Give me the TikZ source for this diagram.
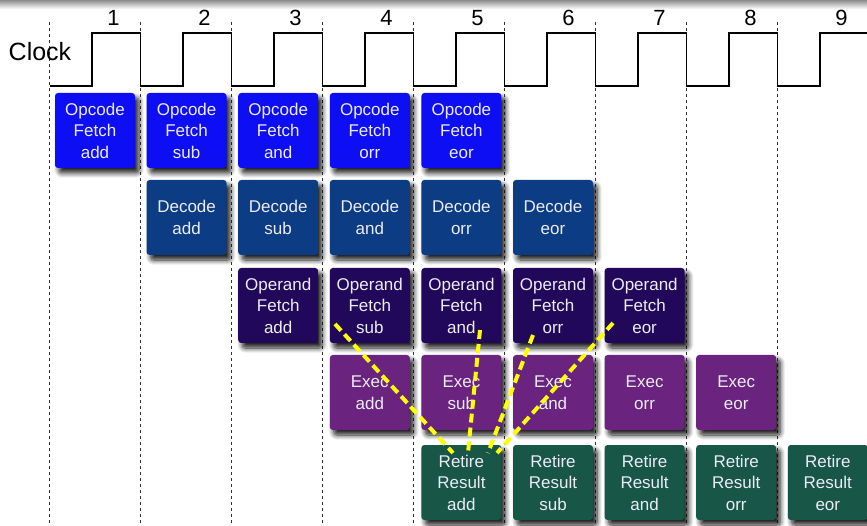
\documentclass[tikz,border=0pt]{standalone}
\usepackage{fontspec}
\setmainfont{Liberation Sans}
\usetikzlibrary{shadows.blur,calc}
\definecolor{cOF}{RGB}{14,14,245}
\definecolor{cDC}{RGB}{12,60,132}
\definecolor{cOP}{RGB}{34,8,90}
\definecolor{cEX}{RGB}{106,36,128}
\definecolor{cRR}{RGB}{24,86,72}
\definecolor{ctxt}{RGB}{236,236,242}
\definecolor{cyel}{RGB}{255,255,0}
\begin{document}
\begin{tikzpicture}[x=1pt,y=-1pt,
  stage/.style={minimum width=80pt, minimum height=75pt, inner sep=0pt,
    rounded corners=3pt, text width=80pt, align=center,
    font=\fontsize{17}{21.5}\selectfont, text=ctxt,
    blur shadow={shadow xshift=4pt, shadow yshift=-5pt, shadow opacity=90, shadow blur radius=5pt, shadow blur steps=8}},
  gridline/.style={black!80, line width=0.8pt, dash pattern=on 3pt off 3pt},
  clk/.style={black, line width=1.8pt, line join=miter},
  num/.style={font=\fontsize{22}{22}\selectfont, inner sep=0pt},
  hazard/.style={cyel, line width=4pt, dash pattern=on 9pt off 5pt}
]
\useasboundingbox (0,0) rectangle (867,526);
\shade[top color=black!45, bottom color=white] (0,0) rectangle (867,9);

% grid lines
\foreach \k in {0,...,8} {
  \draw[gridline] ({49.5+91*\k},22) -- ({49.5+91*\k},526);
}

% clock
\draw[clk] (49.5,86) -- (92,86) |- (140.5,33) |- (183,86) |- (231.5,33) |- (274,86)
  |- (322.5,33) |- (365,86) |- (413.5,33) |- (456,86) |- (504.5,33) |- (547,86)
  |- (595.5,33) |- (638,86) |- (686.5,33) |- (729,86) |- (777.5,33) |- (820,86) |- (867,33);
\node[font=\fontsize{25}{25}\selectfont, inner sep=0pt] (clock) at (40,52) {Clock};
\foreach \k in {1,...,9} {
  \node[num] (n\k) at ({113.5+91*(\k-1)},18) {\k};
}

% stages
\foreach \w [count=\k from 1] in {add,sub,and,orr,eor} {
  \node[stage, fill=cOF] (of-\w) at ({95+91.6*(\k-1)},130.5) {Opcode\\Fetch\\\w};
}
\foreach \w [count=\k from 2] in {add,sub,and,orr,eor} {
  \node[stage, fill=cDC] (dc-\w) at ({95+91.6*(\k-1)},217.5) {Decode\\\w};
}
\foreach \w [count=\k from 3] in {add,sub,and,orr,eor} {
  \node[stage, fill=cOP] (op-\w) at ({95+91.6*(\k-1)},305.5) {Operand\\Fetch\\\w};
}
\foreach \w [count=\k from 4] in {add,sub,and,orr,eor} {
  \node[stage, fill=cEX] (ex-\w) at ({95+91.6*(\k-1)},392.5) {Exec\\\w};
}
\foreach \w [count=\k from 5] in {add,sub,and,orr,eor} {
  \node[stage, fill=cRR] (rr-\w) at ({95+91.6*(\k-1)},482.5) {Retire\\Result\\\w};
}

% hazards
\coordinate (h1) at ($(op-sub.center)+(-34.8,18.5)$);
\coordinate (h2) at ($(op-and.center)+(18.6,24.5)$);
\coordinate (h3) at ($(op-orr.center)+(-20,29.5)$);
\coordinate (h4) at ($(op-eor.center)+(-31.6,17.5)$);
\coordinate (e1) at ($(rr-add.center)+(-8.4,-29.5)$);
\coordinate (e2) at ($(rr-add.center)+(6.6,-29.5)$);
\coordinate (e3) at ($(rr-add.center)+(26.6,-29.5)$);
\coordinate (e4) at ($(rr-add.center)+(35.6,-29.5)$);
\draw[hazard] (h1) -- (e1);
\draw[hazard] (h2) -- (e2);
\draw[hazard] (h3) -- (e3);
\draw[hazard] (h4) -- (e4);
\end{tikzpicture}
\end{document}
